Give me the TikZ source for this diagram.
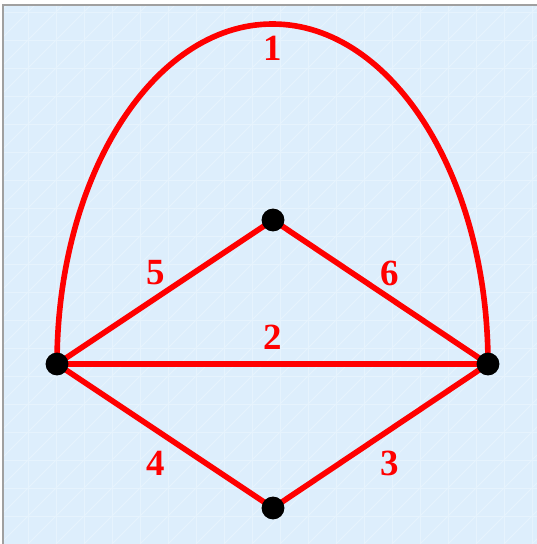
\documentclass[tikz,border=0pt]{standalone}
\usepackage{fontspec}
\setmainfont{Liberation Serif}
\definecolor{paper}{HTML}{DDEEFC}
\definecolor{paperline}{HTML}{E6F3FD}
\definecolor{frame}{HTML}{A0A0A0}
\tikzset{
  edge/.style={red,line width=3.2pt},
  dot/.style={circle,fill=black,inner sep=0pt,minimum size=13pt},
  lab/.style={red,font=\fontsize{21}{24}\selectfont\bfseries}
}
\begin{document}
\begin{tikzpicture}[x=0.02cm,y=0.02cm]
\useasboundingbox (0,0) rectangle (537,544);
\fill[paper] (3,0) rectangle (537,539);
\draw[paperline,line width=0.5pt] (3,0) grid[step=28] (537,539);
\begin{scope}
\clip (3,0) rectangle (537,539);
\foreach \d in {-532,-504,...,532}
  \draw[paperline,line width=0.5pt] (\d,0) -- ++(560,560);
\end{scope}
\draw[frame,line width=0.6pt] (3,0) -- (3,539) -- (537,539);

\coordinate (l) at (57,180);
\coordinate (t) at (273,324);
\coordinate (r) at (488,180);
\coordinate (b) at (273,36);

\draw[edge] (l) arc[start angle=180,end angle=0,x radius=215.5,y radius=340];
\draw[edge] (l) -- (r);
\draw[edge] (l) -- (t) -- (r);
\draw[edge] (l) -- (b) -- (r);

\node[dot] (dl) at (l) {};
\node[dot] (dt) at (t) {};
\node[dot] (dr) at (r) {};
\node[dot] (db) at (b) {};

\node[lab] (n1) at (273,496) {1};
\node[lab] (n2) at (273,207) {2};
\node[lab] (n3) at (390,81) {3};
\node[lab] (n4) at (156,81) {4};
\node[lab] (n5) at (156,271) {5};
\node[lab] (n6) at (390,271) {6};

\end{tikzpicture}
\end{document}
